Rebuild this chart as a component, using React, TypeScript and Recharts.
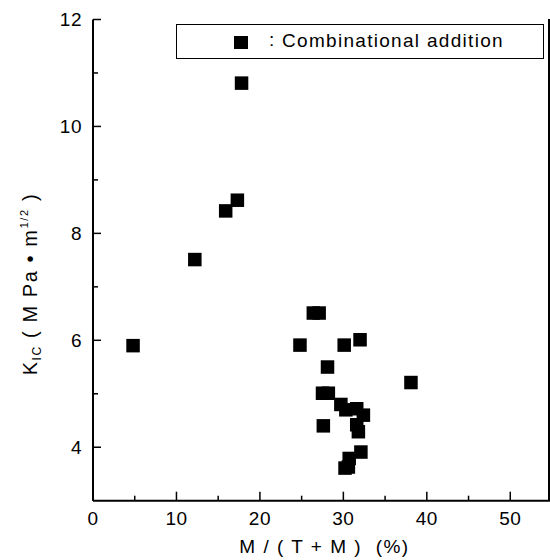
import React from 'react';
import { ScatterChart, Scatter, XAxis, YAxis, ZAxis } from 'recharts';

// M/(T+M) in %, K_IC in MPa·m^1/2
const ratio = [4.8, 12.2, 15.9, 17.3, 17.8, 24.8, 26.4, 27.1, 30.1, 32.0, 28.1, 38.1, 27.5, 28.2, 29.7, 30.3, 31.6, 32.4, 27.6, 31.6, 31.8, 32.1, 30.7, 30.2, 30.6];
const kic = [5.9, 7.51, 8.42, 8.62, 10.81, 5.91, 6.51, 6.51, 5.91, 6.01, 5.5, 5.21, 5.01, 5.01, 4.8, 4.7, 4.72, 4.6, 4.4, 4.42, 4.29, 3.91, 3.79, 3.61, 3.63];

const xTicks = [0, 5, 10, 15, 20, 25, 30, 35, 40, 45, 50];
const yTicks = [4, 5, 6, 7, 8, 9, 10, 11, 12];

const legendLabel = 'Combinational addition';
const xTitle = 'M / ( T + M )  (%)';

const points = ratio.map((r, i) => ({ x: r, y: kic[i] }));

const FONT = '"Liberation Sans", Arial, Helvetica, sans-serif';

const XTick = (props: any) => {
  const { x, y, payload } = props;
  const major = payload.value % 10 === 0;
  return (
    <g>
      <line x1={x} y1={y} x2={x} y2={y - (major ? 9 : 5)} stroke="#000" strokeWidth={1.5} />
      {major && (
        <text x={x} y={y + 24.5} textAnchor="middle" fontSize={19} fontFamily={FONT} fill="#000" letterSpacing={0.5}>
          {payload.value}
        </text>
      )}
    </g>
  );
};

const YTick = (props: any) => {
  const { x, y, payload } = props;
  const major = payload.value % 2 === 0;
  return (
    <g>
      <line x1={x} y1={y} x2={x + (major ? 8 : 5)} y2={y} stroke="#000" strokeWidth={1.5} />
      {major && (
        <text x={x - 11} y={y + 6.8} textAnchor="end" fontSize={19} fontFamily={FONT} fill="#000" letterSpacing={0.5}>
          {payload.value}
        </text>
      )}
    </g>
  );
};

const SquareDot = (props: any) => {
  const { cx, cy } = props;
  const s = 13.5;
  return <rect x={cx - s / 2} y={cy - s / 2} width={s} height={s} fill="#000" />;
};

const YTitle = (props: any) => {
  const { viewBox } = props;
  const cx = viewBox.x + 4;
  const cy = viewBox.y + viewBox.height / 2 + 24;
  return (
    <text
      x={cx}
      y={cy}
      transform={`rotate(-90, ${cx}, ${cy})`}
      textAnchor="middle"
      fontSize={20}
      fontFamily={FONT}
      fill="#000"
      letterSpacing={1.6}
    >
      <tspan>K</tspan>
      <tspan fontSize={12} dy={4}>IC</tspan>
      <tspan dy={-4}>{' ( M Pa • m'}</tspan>
      <tspan fontSize={11} dy={-9}>{'1/2'}</tspan>
      <tspan dy={9}>{' )'}</tspan>
    </text>
  );
};

const XTitle = (props: any) => {
  const { viewBox } = props;
  return (
    <text
      x={viewBox.x + viewBox.width / 2 + 2}
      y={viewBox.y + 52}
      textAnchor="middle"
      fontSize={19}
      fontFamily={FONT}
      fill="#000"
      letterSpacing={1.5}
      style={{ whiteSpace: 'pre' }}
    >
      {xTitle}
    </text>
  );
};

export default function App() {
  return (
    <div style={{ position: 'absolute', left: 0, top: 0, width: 550, height: 560, overflow: 'hidden', background: '#fff' }}>
      <ScatterChart width={560} height={560} margin={{ top: 19.5, right: 8, bottom: 29.3, left: 33 }}>
        <XAxis
          type="number"
          dataKey="x"
          domain={[0, 55]}
          ticks={xTicks}
          interval={0}
          height={30}
          tickSize={0}
          tickMargin={0}
          tick={<XTick />}
          axisLine={{ stroke: '#000', strokeWidth: 2 }}
          label={<XTitle />}
        />
        <XAxis
          xAxisId="top"
          orientation="top"
          type="number"
          domain={[0, 55]}
          height={0}
          tick={false}
          tickLine={false}
          axisLine={{ stroke: '#000', strokeWidth: 2 }}
        />
        <YAxis
          type="number"
          dataKey="y"
          domain={[3, 12]}
          ticks={yTicks}
          interval={0}
          width={60}
          tickSize={0}
          tickMargin={0}
          tick={<YTick />}
          axisLine={{ stroke: '#000', strokeWidth: 2 }}
          label={<YTitle />}
        />
        <ZAxis range={[180, 180]} />
        <Scatter data={points} shape={<SquareDot />} isAnimationActive={false} />
      </ScatterChart>
      <div style={{ position: 'absolute', left: 548, top: 19, width: 1.5, height: 482, background: '#000' }} />
      <div
        style={{
          position: 'absolute',
          left: 176,
          top: 24,
          width: 368,
          height: 35,
          boxSizing: 'border-box',
          border: '1.5px solid #000',
          background: '#fff',
          fontFamily: FONT,
          fontSize: 19,
        }}
      >
        <div style={{ position: 'absolute', left: 57, top: 10.5, width: 13.5, height: 13.5, background: '#000' }} />
        <div style={{ position: 'absolute', left: 92, top: 4, whiteSpace: 'pre' }}>:</div>
        <div style={{ position: 'absolute', left: 105, top: 5, whiteSpace: 'pre', letterSpacing: 1.3 }}>
          {legendLabel}
        </div>
      </div>
    </div>
  );
}
